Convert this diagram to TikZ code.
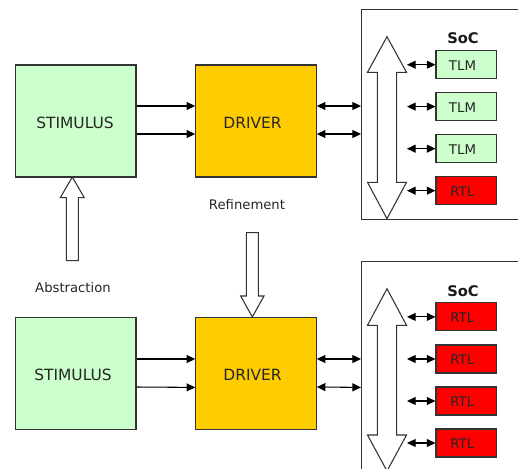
\documentclass[tikz,border=0pt]{standalone}
\usepackage{fontspec}
\setmainfont{DejaVu Sans}
\usetikzlibrary{arrows.meta}
\definecolor{lg}{HTML}{CCFFCC}
\definecolor{drvc}{HTML}{FFCC00}
\definecolor{edge}{HTML}{333333}
\newcommand\nudged[2]{\hspace*{#1}#2}
\tikzset{
  x=0.75pt,y=-0.75pt,
  box/.style={draw=edge,line width=0.8pt,rectangle,inner sep=0pt,text=black!85},
  bigbox/.style={box,minimum width=90.4pt,minimum height=84pt,text height=12pt,text depth=0.5pt,font=\fontsize{11.6}{13}\selectfont},
  stim/.style={bigbox,fill=lg},
  drv/.style={bigbox,fill=drvc},
  small/.style={box,minimum width=45.5pt,minimum height=21pt,text height=10pt,text depth=1.2pt,font=\fontsize{10}{11}\selectfont},
  tlm/.style={small,fill=lg},
  rtl/.style={small,fill=red},
  soc/.style={draw=edge,line width=0.8pt,rectangle,inner sep=0pt,minimum width=150pt},
  lbl/.style={inner sep=0pt,text=black!85,font=\fontsize{9.9}{11}\selectfont},
  soclbl/.style={inner sep=0pt,text=black!90,font=\fontsize{11}{12}\selectfont\bfseries},
  one/.style={line width=0.8pt,draw=black,-{Triangle[length=6.5pt,width=6pt]}},
  two/.style={line width=0.8pt,draw=black,{Triangle[length=6.5pt,width=6pt]}-{Triangle[length=6.5pt,width=6pt]}},
  hollow/.style={draw=edge,line width=0.8pt,fill=white,line join=miter},
}
\begin{document}
\begin{tikzpicture}
\useasboundingbox (0,0) rectangle (518,468);
\clip (0,0) rectangle (518,468);
% top row
\node[soc,anchor=north west,minimum height=157.5pt] (soc1) at (361,9) {};
\node[stim] (s1) at (75.7,121) {\nudged{-1pt}{STIMULUS}};
\node[drv] (d1) at (256,121) {\nudged{-5.2pt}{DRIVER}};
\node[soclbl] (sl1) at (463,38) {SoC};
\node[tlm] (a1) at (466.3,64.7) {\nudged{-5.7pt}{TLM}};
\node[tlm] (a2) at (466.3,106.6) {\nudged{-5.7pt}{TLM}};
\node[tlm] (a3) at (466.3,148.7) {\nudged{-5.7pt}{TLM}};
\node[rtl] (a4) at (466.3,190.7) {\nudged{-6pt}{RTL}};
% bottom row
\node[soc,anchor=north west,minimum height=220pt] (soc2) at (361,261) {};
\node[stim] (s2) at (75.7,373.2) {\nudged{-4pt}{STIMULUS}};
\node[drv] (d2) at (256,373.2) {\nudged{-5.2pt}{DRIVER}};
\node[soclbl] (sl2) at (463,291) {SoC};
\node[rtl] (b1) at (466.3,316.9) {\nudged{-6pt}{RTL}};
\node[rtl] (b2) at (466.3,359) {\nudged{-6pt}{RTL}};
\node[rtl] (b3) at (466.3,401) {\nudged{-6pt}{RTL}};
\node[rtl] (b4) at (466.3,443) {\nudged{-6pt}{RTL}};
% labels
\node[lbl] (ref) at (247,205) {Refinement};
\node[lbl] (abs) at (73,288) {Abstraction};
% bus arrows
\draw[hollow] (387,36.7) -- (406.5,72.3) -- (396.7,72.3) -- (396.7,182.3) -- (406.5,182.3) -- (387,218.7) -- (367.5,182.3) -- (377.3,182.3) -- (377.3,72.3) -- (367.5,72.3) -- cycle;
\draw[hollow] (387,288.7) -- (406.5,325.3) -- (396.7,325.3) -- (396.7,435) -- (406.5,435) -- (387,471) -- (367.5,435) -- (377.3,435) -- (377.3,325.3) -- (367.5,325.3) -- cycle;
% abstraction / refinement arrows
\draw[hollow] (72.3,177) -- (84.3,197.7) -- (78.3,197.7) -- (78.3,260.7) -- (66.3,260.7) -- (66.3,197.7) -- (60.3,197.7) -- cycle;
\draw[hollow] (252.3,317) -- (264,296) -- (258.3,296) -- (258.3,232.7) -- (246.3,232.7) -- (246.3,296) -- (240.7,296) -- cycle;
% connectors top
\draw[one] (s1.east |- 0,106) -- (d1.west |- 0,106);
\draw[one] (s1.east |- 0,134) -- (d1.west |- 0,134);
\draw[two] (d1.east |- 0,106) -- (soc1.west |- 0,106);
\draw[two] (d1.east |- 0,134) -- (soc1.west |- 0,134);
\draw[two] (407,64.7) -- (a1.west);
\draw[two] (407,106.6) -- (a2.west);
\draw[two] (407,148.7) -- (a3.west);
\draw[two] (407,190.7) -- (a4.west);
% connectors bottom
\draw[one] (s2.east |- 0,359) -- (d2.west |- 0,359);
\draw[one] (s2.east |- 0,387) -- (d2.west |- 0,387.4);
\draw[two] (d2.east |- 0,359) -- (soc2.west |- 0,359);
\draw[two] (d2.east |- 0,387) -- (soc2.west |- 0,387.4);
\draw[two] (407,316.9) -- (b1.west);
\draw[two] (407,359) -- (b2.west);
\draw[two] (407,401) -- (b3.west);
\draw[two] (407,443) -- (b4.west);
\end{tikzpicture}
\end{document}
